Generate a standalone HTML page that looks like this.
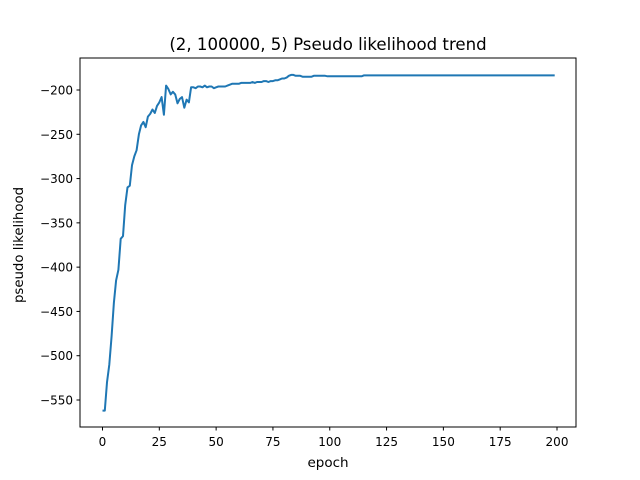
<!DOCTYPE html>
<html><head><meta charset="utf-8"><style>
body{margin:0;background:#fff}
svg{display:block;font-family:"DejaVu Sans","Liberation Sans",sans-serif}
</style></head><body>
<svg id="chart" width="640" height="480">
<rect width="640" height="480" fill="#fff"/>
<text x="328" y="50" text-anchor="middle" font-size="16.6">(2, 100000, 5) Pseudo likelihood trend</text>
<g id="plot"></g>
<rect x="80" y="58" width="496" height="369" fill="none" stroke="#000" stroke-width="1"/>
<text x="328" y="467" text-anchor="middle" font-size="13.5">epoch</text>
<text transform="translate(23,245) rotate(-90)" text-anchor="middle" font-size="13.3">pseudo likelihood</text>
</svg>
<script>
const xTicks=[0,25,50,75,100,125,150,175,200];
const yTicks=[-550,-500,-450,-400,-350,-300,-250,-200];
const values=[-562,-562,-530,-510,-478,-440,-415,-403,-368,-365,-330,-310,-308,-285,-275,-268,-250,-240,-236,-242,
-230,-227,-222,-226,-218,-214,-208,-228,-195,-199,-205,-202,-205,-215,-210,-208,-220,-211,-214,-197,
-197,-198,-196,-196,-197,-195,-197,-196,-196,-198,-197,-196,-196,-196,-196,-195,-194,-193,-193,-193,
-193,-192,-192,-192,-192,-192,-191,-192,-191,-191,-191,-190,-190,-191,-190,-190,-189,-189,-188,-187,
-187,-186,-184,-183,-183,-184,-184,-184,-185,-185,-185,-185,-185,-184,-184,-184,-184,-184,-184,-184.5,
-184.5,-184.5,-184.5,-184.5,-184.5,-184.5,-184.5,-184.5,-184.5,-184.5,-184.5,-184.5,-184.5,-184.5,-184.5,-183.5,-183.5,-183.5,-183.5,-183.5,
-183.5,-183.5,-183.5,-183.5,-183.5,-183.5,-183.5,-183.5,-183.5,-183.5,-183.5,-183.5,-183.5,-183.5,-183.5,-183.5,-183.5,-183.5,-183.5,-183.5,
-183.5,-183.5,-183.5,-183.5,-183.5,-183.5,-183.5,-183.5,-183.5,-183.5,-183.5,-183.5,-183.5,-183.5,-183.5,-183.5,-183.5,-183.5,-183.5,-183.5,
-183.5,-183.5,-183.5,-183.5,-183.5,-183.5,-183.5,-183.5,-183.5,-183.5,-183.5,-183.5,-183.5,-183.5,-183.5,-183.5,-183.5,-183.5,-183.5,-183.5,
-183.5,-183.5,-183.5,-183.5,-183.5,-183.5,-183.5,-183.5,-183.5,-183.5,-183.5,-183.5,-183.5,-183.5,-183.5,-183.5,-183.5,-183.5,-183.5,-183.5];
const NS='http://www.w3.org/2000/svg';
const g=document.getElementById('plot');
function xs(v){return 102.5+v*(557-102.5)/200;}
function ys(v){return 90+(v+200)*(400-90)/(-350);}
function mk(t,a){const e=document.createElementNS(NS,t);for(const k in a)e.setAttribute(k,a[k]);g.appendChild(e);return e;}
xTicks.forEach(t=>{
  const l=mk('line',{x1:xs(t),x2:xs(t),y1:427,y2:430.5,stroke:'#000'});
  
  
  const tx=mk('text',{x:xs(t),y:446,'text-anchor':'middle','font-size':'12'});
  tx.textContent=t;
  
  
});
yTicks.forEach(t=>{
  const l=mk('line',{x1:76.5,x2:80,y1:ys(t),y2:ys(t),stroke:'#000'});
  
  
  const tx=mk('text',{x:73,y:ys(t)+4.5,'text-anchor':'end','font-size':'12'});
  tx.textContent='\u2212'+Math.abs(t);
  
  
});
const p=mk('polyline',{points:values.map((v,i)=>xs(i).toFixed(1)+','+ys(v).toFixed(1)).join(' '),fill:'none',stroke:'#1f77b4','stroke-width':'2','stroke-linejoin':'round'});


</script>
</body></html>
